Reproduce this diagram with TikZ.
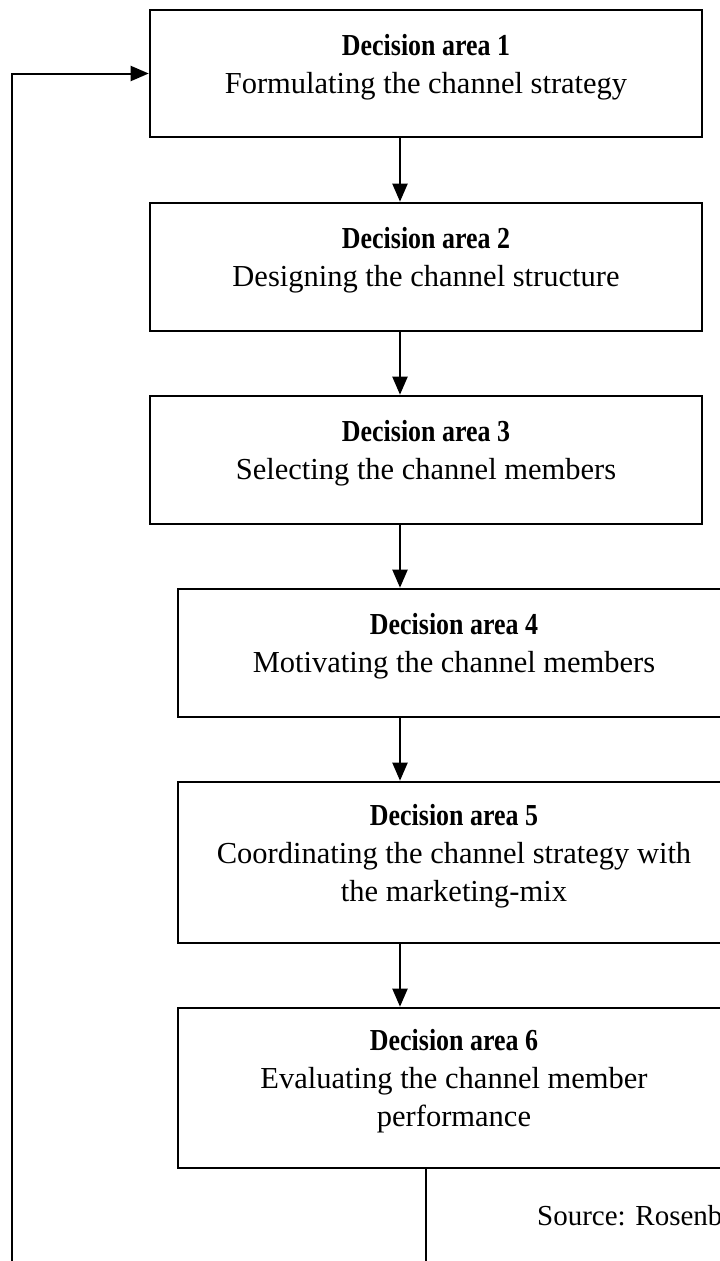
\documentclass[tikz,border=0pt]{standalone}
\usepackage{fontspec}
\setmainfont{Liberation Serif}
\usepackage{graphicx}
\usetikzlibrary{arrows.meta}
\newcommand{\hd}[1]{\scalebox{0.85}[1]{\bfseries #1}}
\newcommand{\bxt}[1]{\raisebox{7pt}[\height][\depth]{\begin{tabular}{@{}c@{}}#1\end{tabular}}}
\tikzset{
  dbox/.style={draw=black, line width=2.6pt, fill=white, minimum width=552, inner sep=0pt,
    font=\fontsize{30.5}{38}\selectfont},
  arr/.style={draw=black, line width=2pt, -{Triangle[length=18pt,width=15pt]}},
  conn/.style={draw=black, line width=2pt}
}
\begin{document}
\begin{tikzpicture}[x=1pt,y=-1pt]
\useasboundingbox (0,0) rectangle (720,1261);
\fill[white] (0,0) rectangle (720,1261);
\clip (0,0) rectangle (720,1261);
\coordinate (ax) at (400,0);
\coordinate (lx) at (11.5,0);
\coordinate (by) at (0,1300);
\node[dbox, minimum height=127] (b1) at (426,73.5) {\bxt{\hd{Decision area 1}\\Formulating the channel strategy}};
\node[dbox, minimum height=128] (b2) at (426,267) {\bxt{\hd{Decision area 2}\\Designing the channel structure}};
\node[dbox, minimum height=128] (b3) at (426,460) {\bxt{\hd{Decision area 3}\\Selecting the channel members}};
\node[dbox, minimum height=128] (b4) at (454,653) {\bxt{\hd{Decision area 4}\\Motivating the channel members}};
\node[dbox, minimum height=161] (b5) at (454,862.5) {\bxt{\hd{Decision area 5}\\Coordinating the channel strategy with\\the marketing-mix}};
\node[dbox, minimum height=160] (b6) at (454,1088) {\bxt{\hd{Decision area 6}\\Evaluating the channel member\\performance}};
\node[anchor=west, inner sep=0pt, font=\fontsize{29}{35}\selectfont] (src) at (537,1216) {Source: Rosenb};
\draw[arr] (b1.south -| ax) -- (b2.north -| ax);
\draw[arr] (b2.south -| ax) -- (b3.north -| ax);
\draw[arr] (b3.south -| ax) -- (b4.north -| ax);
\draw[arr] (b4.south -| ax) -- (b5.north -| ax);
\draw[arr] (b5.south -| ax) -- (b6.north -| ax);
\draw[arr] (b6.south -| b1.south) -- (b1.south |- by) -- (lx |- by) -- (lx |- b1.west) -- (b1.west);
\end{tikzpicture}
\end{document}
